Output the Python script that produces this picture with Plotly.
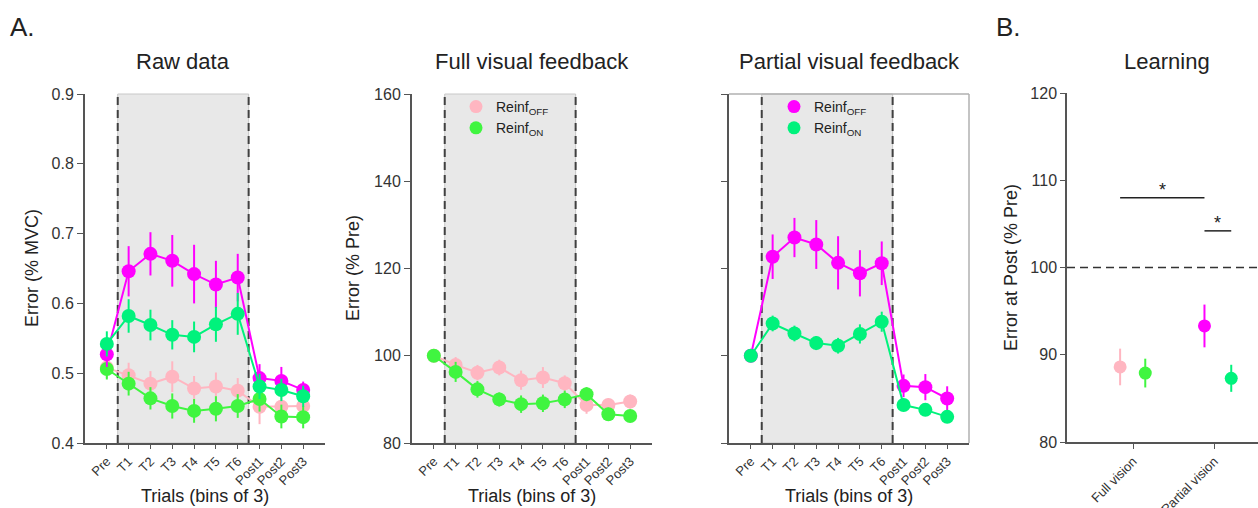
import plotly.graph_objects as go

# ---------------- data ----------------
bins = ["Pre", "T1", "T2", "T3", "T4", "T5", "T6", "Post1", "Post2", "Post3"]

# Panel 1: raw data (% MVC)
raw_full_off = [0.508, 0.497, 0.485, 0.495, 0.478, 0.481, 0.475, 0.452, 0.452, 0.453]
raw_full_off_err = [0.015, 0.018, 0.018, 0.022, 0.018, 0.020, 0.018, 0.025, 0.018, 0.016]
raw_full_on = [0.506, 0.485, 0.464, 0.453, 0.446, 0.449, 0.453, 0.463, 0.438, 0.437]
raw_full_on_err = [0.015, 0.017, 0.016, 0.018, 0.017, 0.018, 0.017, 0.018, 0.017, 0.016]
raw_part_off = [0.527, 0.646, 0.671, 0.661, 0.642, 0.627, 0.637, 0.493, 0.489, 0.476]
raw_part_off_err = [0.018, 0.036, 0.031, 0.037, 0.042, 0.034, 0.034, 0.020, 0.020, 0.012]
raw_part_on = [0.542, 0.582, 0.569, 0.555, 0.552, 0.570, 0.585, 0.481, 0.476, 0.467]
raw_part_on_err = [0.018, 0.024, 0.022, 0.021, 0.022, 0.025, 0.030, 0.018, 0.016, 0.015]

# Panel 2: full visual feedback (% Pre)
full_off = [100.0, 97.9, 96.1, 97.3, 94.4, 95.0, 93.7, 88.7, 88.7, 89.5]
full_off_err = [0.0, 1.8, 1.8, 1.8, 2.2, 2.4, 1.8, 2.0, 1.5, 1.6]
full_on = [100.0, 96.3, 92.3, 90.0, 88.9, 89.1, 90.0, 91.2, 86.6, 86.2]
full_on_err = [0.0, 2.3, 1.9, 1.6, 2.0, 2.0, 2.0, 1.6, 1.5, 1.4]

# Panel 3: partial visual feedback (% Pre)
part_off = [100.0, 122.7, 127.1, 125.5, 121.3, 118.9, 121.2, 93.1, 92.8, 90.2]
part_off_err = [0.0, 5.1, 4.5, 5.6, 6.1, 5.3, 5.0, 2.6, 3.0, 2.8]
part_on = [100.0, 107.4, 105.1, 102.9, 102.3, 105.0, 107.8, 88.7, 87.6, 86.0]
part_on_err = [0.0, 1.8, 1.8, 1.6, 1.8, 2.2, 2.3, 1.4, 1.2, 1.2]

# Panel 4: learning (error at Post, % Pre)
groups = ["Full vision", "Partial vision"]
learn_off = [88.6, 93.3]
learn_off_err = [2.1, 2.45]
learn_on = [87.9, 87.3]
learn_on_err = [1.65, 1.55]
learn_off_offset = [-0.16, -0.12]
learn_on_offset = [0.15, 0.21]
# significance bars: (x0, x1, y)
sig_x0 = [-0.16, 0.88]
sig_x1 = [0.88, 1.21]
sig_y = [108.0, 104.2]

legend_off = "Reinf<sub>OFF</sub>"
legend_on = "Reinf<sub>ON</sub>"

# ---------------- styling ----------------
PINK = "#FFB6C1"
LGREEN = "#40F540"
MAGENTA = "#FF00FF"
SGREEN = "#00F27C"
AXC = "#555555"
TXT = "#222222"
FONT = "Liberation Sans, Arial, sans-serif"

W, H = 1258, 508
def px_x(p):
    return p / W
def px_y(p):
    return (H - p) / H

dom_x = [(85, 325), (412, 652), (729, 969), (1067, 1258)]
dom_y = (px_y(443), px_y(94))
dom_y4 = (px_y(442), px_y(93))

fig = go.Figure()
xi = list(range(len(bins)))

def series(xa, ya, y, err, color):
    fig.add_trace(go.Scatter(
        x=xi, y=y, xaxis=xa, yaxis=ya, mode="lines+markers",
        line=dict(color=color, width=2),
        marker=dict(color=color, size=14),
        error_y=dict(type="data", array=err, color=color, thickness=2, width=0),
        showlegend=False, hoverinfo="skip"))

# Panel 1
series("x", "y", raw_full_off, raw_full_off_err, PINK)
series("x", "y", raw_full_on, raw_full_on_err, LGREEN)
series("x", "y", raw_part_off, raw_part_off_err, MAGENTA)
series("x", "y", raw_part_on, raw_part_on_err, SGREEN)
# Panel 2
series("x2", "y2", full_off, full_off_err, PINK)
series("x2", "y2", full_on, full_on_err, LGREEN)
# Panel 3
series("x3", "y3", part_off, part_off_err, MAGENTA)
series("x3", "y3", part_on, part_on_err, SGREEN)

# legend entries
for name, color, lg, xa, ya in [(legend_off, PINK, "legend", "x2", "y2"),
                                (legend_on, LGREEN, "legend", "x2", "y2"),
                                (legend_off, MAGENTA, "legend2", "x3", "y3"),
                                (legend_on, SGREEN, "legend2", "x3", "y3")]:
    fig.add_trace(go.Scatter(x=[None], y=[None], xaxis=xa, yaxis=ya, mode="markers",
                             marker=dict(color=color, size=13), name=name,
                             legend=lg, showlegend=True))

# Panel 4 (one trace per point so that each error bar keeps its own colour)
for vals, errs, offs, cols in [(learn_off, learn_off_err, learn_off_offset, [PINK, MAGENTA]),
                               (learn_on, learn_on_err, learn_on_offset, [LGREEN, SGREEN])]:
    for k in range(len(groups)):
        fig.add_trace(go.Scatter(
            x=[k + offs[k]], y=[vals[k]], xaxis="x4", yaxis="y4", mode="markers",
            marker=dict(color=cols[k], size=13),
            error_y=dict(type="data", array=[errs[k]], color=cols[k], thickness=2, width=0),
            showlegend=False, hoverinfo="skip"))

tickfont = dict(family=FONT, size=16, color="#333333")
xtickfont = dict(family=FONT, size=13, color="#333333")

def xaxis_cfg(i):
    x0, x1 = dom_x[i]
    return dict(domain=[px_x(x0), px_x(x1)], range=[-1, 10], anchor="y" if i == 0 else f"y{i+1}",
                tickmode="array", tickvals=xi, ticktext=bins, tickangle=-45,
                tickfont=xtickfont, ticks="outside", ticklen=4, tickcolor=AXC,
                showline=True, linecolor=AXC, linewidth=1.5, showgrid=False, zeroline=False,
                automargin=False)

layout = dict(
    width=W, height=H, margin=dict(l=0, r=0, t=0, b=0, autoexpand=False),
    paper_bgcolor="white", plot_bgcolor="rgba(0,0,0,0)",
    font=dict(family=FONT, color=TXT),
    showlegend=True,
)
layout["xaxis"] = xaxis_cfg(0)
layout["xaxis2"] = xaxis_cfg(1)
layout["xaxis3"] = xaxis_cfg(2)
layout["xaxis4"] = dict(domain=[px_x(1067), px_x(1258)], range=[-0.815, 1.54], anchor="y4",
                        tickmode="array", tickvals=list(range(len(groups))), ticktext=groups,
                        tickangle=-45, tickfont=dict(family=FONT, size=13, color="#333333"),
                        ticks="outside", ticklen=5, tickcolor=AXC, showline=True, linecolor=AXC,
                        linewidth=1.5, showgrid=False, zeroline=False, automargin=False)

def yaxis_cfg(i, rng, tv, tt):
    return dict(domain=list(dom_y), range=rng, anchor="x" if i == 0 else f"x{i+1}",
                tickmode="array", tickvals=tv, ticktext=tt,
                tickfont=tickfont, ticks="outside", ticklen=6, tickcolor=AXC,
                showline=True, linecolor=AXC, linewidth=2, showgrid=False, zeroline=False,
                automargin=False)

layout["yaxis"] = yaxis_cfg(0, [0.4, 0.9], [0.4, 0.5, 0.6, 0.7, 0.8, 0.9],
                            ["0.4", "0.5", "0.6", "0.7", "0.8", "0.9"])
layout["yaxis2"] = yaxis_cfg(1, [80, 160], [80, 100, 120, 140, 160],
                             ["80", "100", "120", "140", "160"])
layout["yaxis3"] = yaxis_cfg(2, [80, 160], [80, 100, 120, 140, 160], [""] * 5)
layout["yaxis4"] = dict(domain=list(dom_y4), range=[80, 120], anchor="x4", tickvals=[80, 90, 100, 110, 120],
                        tickfont=tickfont, ticks="outside", ticklen=5, tickcolor=AXC,
                        showline=True, linecolor=AXC, linewidth=1.5, showgrid=False, zeroline=False,
                        automargin=False)

layout["legend"] = dict(x=px_x(456), y=px_y(91), xanchor="left", yanchor="top",
                        bgcolor="rgba(0,0,0,0)", font=dict(family=FONT, size=14, color=TXT),
                        itemwidth=30, tracegroupgap=0)
layout["legend2"] = dict(x=px_x(774), y=px_y(91), xanchor="left", yanchor="top",
                         bgcolor="rgba(0,0,0,0)", font=dict(family=FONT, size=14, color=TXT),
                         itemwidth=30, tracegroupgap=0)

fig.update_layout(**layout)

# shaded training blocks + dashed borders
shapes = []
for k in ["", "2", "3"]:
    xr, yr = "x" + k, ("y" + k + " domain")
    shapes.append(dict(type="rect", xref=xr, yref=yr, x0=0.5, x1=6.5, y0=0, y1=1,
                       fillcolor="#E8E8E8", line=dict(color="#C8C8C8", width=1), layer="below"))
    for xv in (0.5, 6.5):
        shapes.append(dict(type="line", xref=xr, yref=yr, x0=xv, x1=xv, y0=0, y1=1,
                           line=dict(color="#404040", width=2, dash="8px,5px"), layer="below"))
# light frame (top and right) of the partial-feedback panel
shapes.append(dict(type="line", xref="x3 domain", yref="y3 domain", x0=0, x1=1, y0=1, y1=1,
                   line=dict(color="#B0B0B0", width=1.5)))
shapes.append(dict(type="line", xref="x3 domain", yref="y3 domain", x0=1, x1=1, y0=0, y1=1,
                   line=dict(color="#B0B0B0", width=1.5)))
# reference 100% line in panel 4
shapes.append(dict(type="line", xref="x4 domain", yref="y4", x0=0, x1=1, y0=100, y1=100,
                   line=dict(color="#333333", width=1.5, dash="8px,5px")))
for a, b, yv in zip(sig_x0, sig_x1, sig_y):
    shapes.append(dict(type="line", xref="x4", yref="y4", x0=a, x1=b, y0=yv, y1=yv,
                       line=dict(color="#222222", width=1.5)))
fig.update_layout(shapes=shapes)

ann = []
def txt(x, y, s, size, angle=0):
    ann.append(dict(xref="paper", yref="paper", x=px_x(x), y=px_y(y), text=s, showarrow=False,
                    textangle=angle, font=dict(family=FONT, size=size, color=TXT),
                    xanchor="center", yanchor="middle"))

txt(22, 27, "A.", 26)
txt(1008, 27, "B.", 26)
txt(183, 61, "Raw data", 22)
txt(532, 61, "Full visual feedback", 22)
txt(849, 61, "Partial visual feedback", 22)
txt(1167, 61, "Learning", 22)
txt(32, 268, "Error (% MVC)", 18, -90)
txt(353, 268, "Error (% Pre)", 18, -90)
txt(1011, 268, "Error at Post (% Pre)", 18, -90)
for cx in (205, 532, 849):
    txt(cx, 496, "Trials (bins of 3)", 18)
for a, b, yv in zip(sig_x0, sig_x1, sig_y):
    ann.append(dict(xref="x4", yref="y4", x=(a + b) / 2, y=yv, text="*", showarrow=False,
                    font=dict(family=FONT, size=18, color=TXT), yanchor="bottom", yshift=-4))
fig.update_layout(annotations=ann)

fig.write_html("out.html")
